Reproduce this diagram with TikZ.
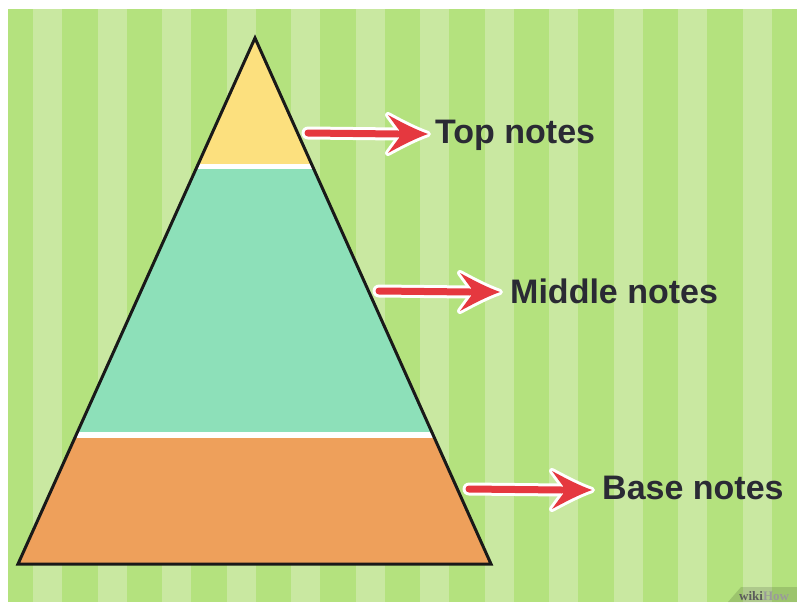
\documentclass[tikz,border=0pt]{standalone}
\usepackage{fontspec}
\setmainfont{Liberation Sans}
\newfontfamily\wmfont{Liberation Serif}
\definecolor{bgdark}{HTML}{B4E27E}
\definecolor{bglight}{HTML}{C9E8A1}
\definecolor{tyellow}{HTML}{FCE07E}
\definecolor{tmid}{HTML}{8DE0B9}
\definecolor{torange}{HTML}{EEA05B}
\definecolor{arrred}{HTML}{E5383F}
\definecolor{txtdark}{HTML}{2A2A34}
\definecolor{wmdark}{HTML}{5A5A5A}
\definecolor{wmlight}{HTML}{9A9A9A}
\newcommand\redarrow[2]{%
 \draw[white, line width=13pt, line cap=round] (#1) -- ([xshift=-30pt]#2);
 \begin{scope}[shift={(#2)}]
  \draw[white, fill=white, line width=6pt, line join=round] (0,0) .. controls (-14,-5) and (-27,-12) .. (-40,-19) .. controls (-35,-11) .. (-29,-4) -- (-29,4) .. controls (-35,11) .. (-40,19) .. controls (-27,12) and (-14,5) .. (0,0) -- cycle;
 \end{scope}
 \draw[arrred, line width=7pt, line cap=round] (#1) -- ([xshift=-30pt]#2);
 \begin{scope}[shift={(#2)}]
  \fill[arrred] (0,0) .. controls (-14,-5) and (-27,-12) .. (-40,-19) .. controls (-35,-11) .. (-29,-4) -- (-29,4) .. controls (-35,11) .. (-40,19) .. controls (-27,12) and (-14,5) .. (0,0) -- cycle;
 \end{scope}}
\tikzset{lbl/.style={anchor=base west, inner sep=0pt, text=txtdark, font=\fontsize{34}{36}\selectfont\bfseries}}
\begin{document}
\begin{tikzpicture}[x=1pt,y=-1pt]
\useasboundingbox (0,0) rectangle (797,602);
\fill[white] (0,0) rectangle (797,602);
\fill[bgdark] (8,9) rectangle (797,602);
\foreach \k in {0,...,11} \fill[bglight] ({33+64.5*\k},9) rectangle ++(29,593);
% pyramid
\coordinate (apex) at (255,38);
\coordinate (bl) at (18,564);
\coordinate (br) at (491,564);
\begin{scope}
 \clip (apex) -- (bl) -- (br) -- cycle;
 \fill[tyellow] (0,30) rectangle (500,164);
 \fill[white] (0,164) rectangle (500,169);
 \fill[tmid] (0,169) rectangle (500,432);
 \fill[white] (0,432) rectangle (500,438);
 \fill[torange] (0,438) rectangle (500,570);
\end{scope}
\draw[line width=3pt, color=black!90, line join=miter] (apex) -- (bl) -- (br) -- cycle;
% labels
\node[lbl] (top) at (435,143) {Top notes};
\node[lbl] (mid) at (510,303) {Middle notes};
\node[lbl] (base) at (602,499) {Base notes};
% arrows
\coordinate (ts) at (308,133);
\coordinate (tt) at (428,134);
\coordinate (ms) at (379,291);
\coordinate (mt) at (500,292);
\coordinate (bs) at (469,489);
\coordinate (bt) at (592,490);
\redarrow{ts}{tt}
\redarrow{ms}{mt}
\redarrow{bs}{bt}
% watermark
\fill[black, opacity=0.13] (728,602) -- (741,587) -- (797,587) -- (797,602) -- cycle;
\node[anchor=base west, inner sep=0pt, font=\wmfont\fontsize{13}{14}\selectfont\bfseries] (wm) at (739,600) {\textcolor{wmdark}{wiki}\textcolor{wmlight}{How}};
\end{tikzpicture}
\end{document}
